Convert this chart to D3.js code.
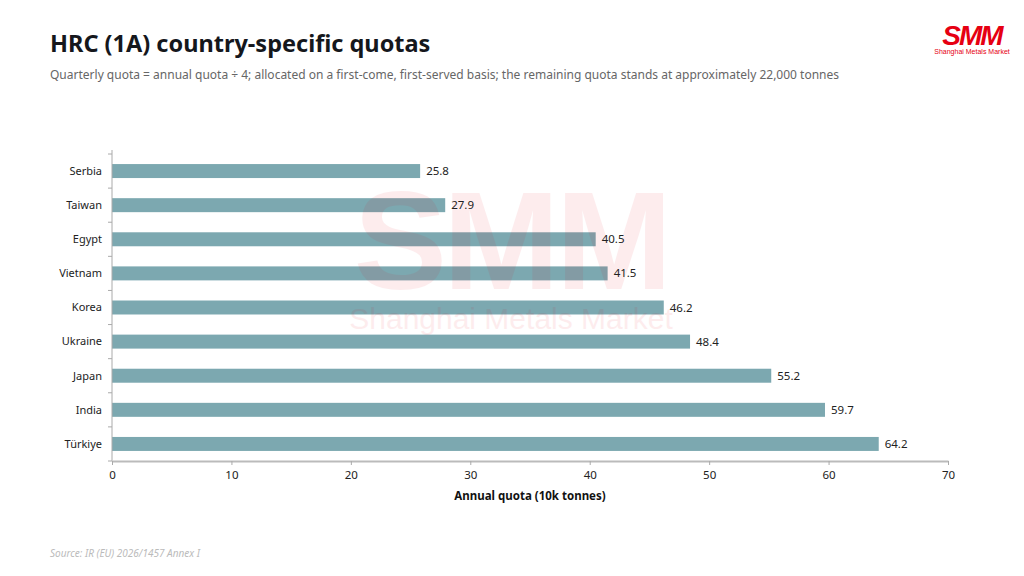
<!DOCTYPE html>
<html>
<head>
<meta charset="utf-8">
<script src="https://cdn.jsdelivr.net/npm/d3@7"></script>
<style>
  body { margin: 0; background: #fff; }
  svg { font-family: "Noto Sans", "DejaVu Sans", sans-serif; }
</style>
</head>
<body>
<div id="chart"></div>
<script>
// quota per country, in 10k tonnes
const countries = ["Serbia", "Taiwan", "Egypt", "Vietnam", "Korea", "Ukraine", "Japan", "India", "Türkiye"];
const quotas = [25.8, 27.9, 40.5, 41.5, 46.2, 48.4, 55.2, 59.7, 64.2];
const xTicks = [0, 10, 20, 30, 40, 50, 60, 70];

const width = 1024, height = 576;
const margin = { top: 154, right: 76, bottom: 115, left: 112 };

const svg = d3.select("#chart").append("svg")
  .attr("width", width)
  .attr("height", height);

// watermark sits behind the chart texts but over the bars (drawn later)
const wmLayer = svg.append("g");

// header
svg.append("text")
  .attr("x", 50).attr("y", 52)
  .attr("font-size", 23.5).attr("font-weight", 700)
  .attr("fill", "#15171c")
  .text("HRC (1A) country-specific quotas");

svg.append("text")
  .attr("x", 50).attr("y", 79)
  .attr("font-size", 12).attr("fill", "#666")
  .text("Quarterly quota = annual quota ÷ 4; allocated on a first-come, first-served basis; the remaining quota stands at approximately 22,000 tonnes");

// logo
svg.append("text")
  .attr("x", 972).attr("y", 45)
  .attr("text-anchor", "middle")
  .attr("font-family", "Liberation Sans, Arial, sans-serif")
  .attr("font-size", 28).attr("font-weight", 700)
  .attr("font-style", "italic")
  .attr("letter-spacing", -2)
  .attr("fill", "#e60012")
  .text("SMM");
svg.append("text")
  .attr("x", 972).attr("y", 54)
  .attr("text-anchor", "middle")
  .attr("font-family", "Liberation Sans, Arial, sans-serif")
  .attr("font-size", 7)
  .attr("fill", "#e60012")
  .text("Shanghai Metals Market");

const x = d3.scaleLinear()
  .domain([0, 70])
  .range([margin.left, width - margin.right]);

const y = d3.scaleBand()
  .domain(countries)
  .range([margin.top, height - margin.bottom])
  .paddingInner(0.59)
  .paddingOuter(0.295);

const data = countries.map((c, i) => ({ country: c, value: quotas[i] }));

// bars
svg.append("g")
  .selectAll("rect")
  .data(data)
  .join("rect")
  .attr("x", x(0))
  .attr("y", d => y(d.country))
  .attr("width", d => x(d.value) - x(0))
  .attr("height", y.bandwidth())
  .attr("fill", "#7ca8b0");

// watermark
const wm = svg.append("g").attr("opacity", 0.07).attr("fill", "#e60012")
  .attr("font-family", "Liberation Sans, Arial, sans-serif");
wm.append("text")
  .attr("x", 511).attr("y", 289)
  .attr("text-anchor", "middle")
  .attr("font-size", 140).attr("font-weight", 700)
  .attr("letter-spacing", -4)
  .text("SMM");
wm.append("text")
  .attr("x", 511).attr("y", 329)
  .attr("text-anchor", "middle")
  .attr("font-size", 30)
  .text("Shanghai Metals Market");

// value labels
svg.append("g")
  .selectAll("text")
  .data(data)
  .join("text")
  .attr("x", d => x(d.value) + 6)
  .attr("y", d => y(d.country) + y.bandwidth() / 2)
  .attr("dy", "0.35em")
  .attr("font-size", 11.5)
  .attr("fill", "#222")
  .text(d => d.value.toFixed(1));

// y axis with ticks on band edges
const yAxis = svg.append("g");
const step = y.step();
const edges = d3.range(countries.length + 1).map(i => margin.top + i * step);
yAxis.append("line")
  .attr("x1", x(0)).attr("x2", x(0))
  .attr("y1", margin.top - 4).attr("y2", height - margin.bottom)
  .attr("stroke", "#aaa");
yAxis.selectAll("line.tick")
  .data(edges)
  .join("line")
  .attr("class", "tick")
  .attr("x1", x(0) - 4).attr("x2", x(0))
  .attr("y1", d => d).attr("y2", d => d)
  .attr("stroke", "#aaa");
yAxis.selectAll("text")
  .data(countries)
  .join("text")
  .attr("x", x(0) - 10)
  .attr("y", d => y(d) + y.bandwidth() / 2)
  .attr("dy", "0.35em")
  .attr("text-anchor", "end")
  .attr("font-size", 11)
  .attr("fill", "#222")
  .text(d => d);

// x axis
const xAxis = svg.append("g")
  .attr("transform", `translate(0,${height - margin.bottom})`)
  .call(d3.axisBottom(x).tickValues(xTicks).tickSize(4).tickSizeOuter(0).tickPadding(6));
xAxis.select(".domain").attr("stroke", "#bbb").attr("stroke-width", 2);
xAxis.selectAll(".tick line").attr("stroke", "#aaa");
xAxis.selectAll(".tick text")
  .attr("font-size", 11.5)
  .attr("fill", "#222")
  .attr("font-family", "Noto Sans, sans-serif");

svg.append("text")
  .attr("x", (x(0) + x(70)) / 2)
  .attr("y", 500)
  .attr("text-anchor", "middle")
  .attr("font-size", 11.5).attr("font-weight", 700)
  .attr("fill", "#111")
  .text("Annual quota (10k tonnes)");

// source
svg.append("text")
  .attr("x", 50).attr("y", 557)
  .attr("font-size", 10).attr("font-style", "italic")
  .attr("fill", "#bbb")
  .text("Source: IR (EU) 2026/1457 Annex I");
</script>
</body>
</html>
